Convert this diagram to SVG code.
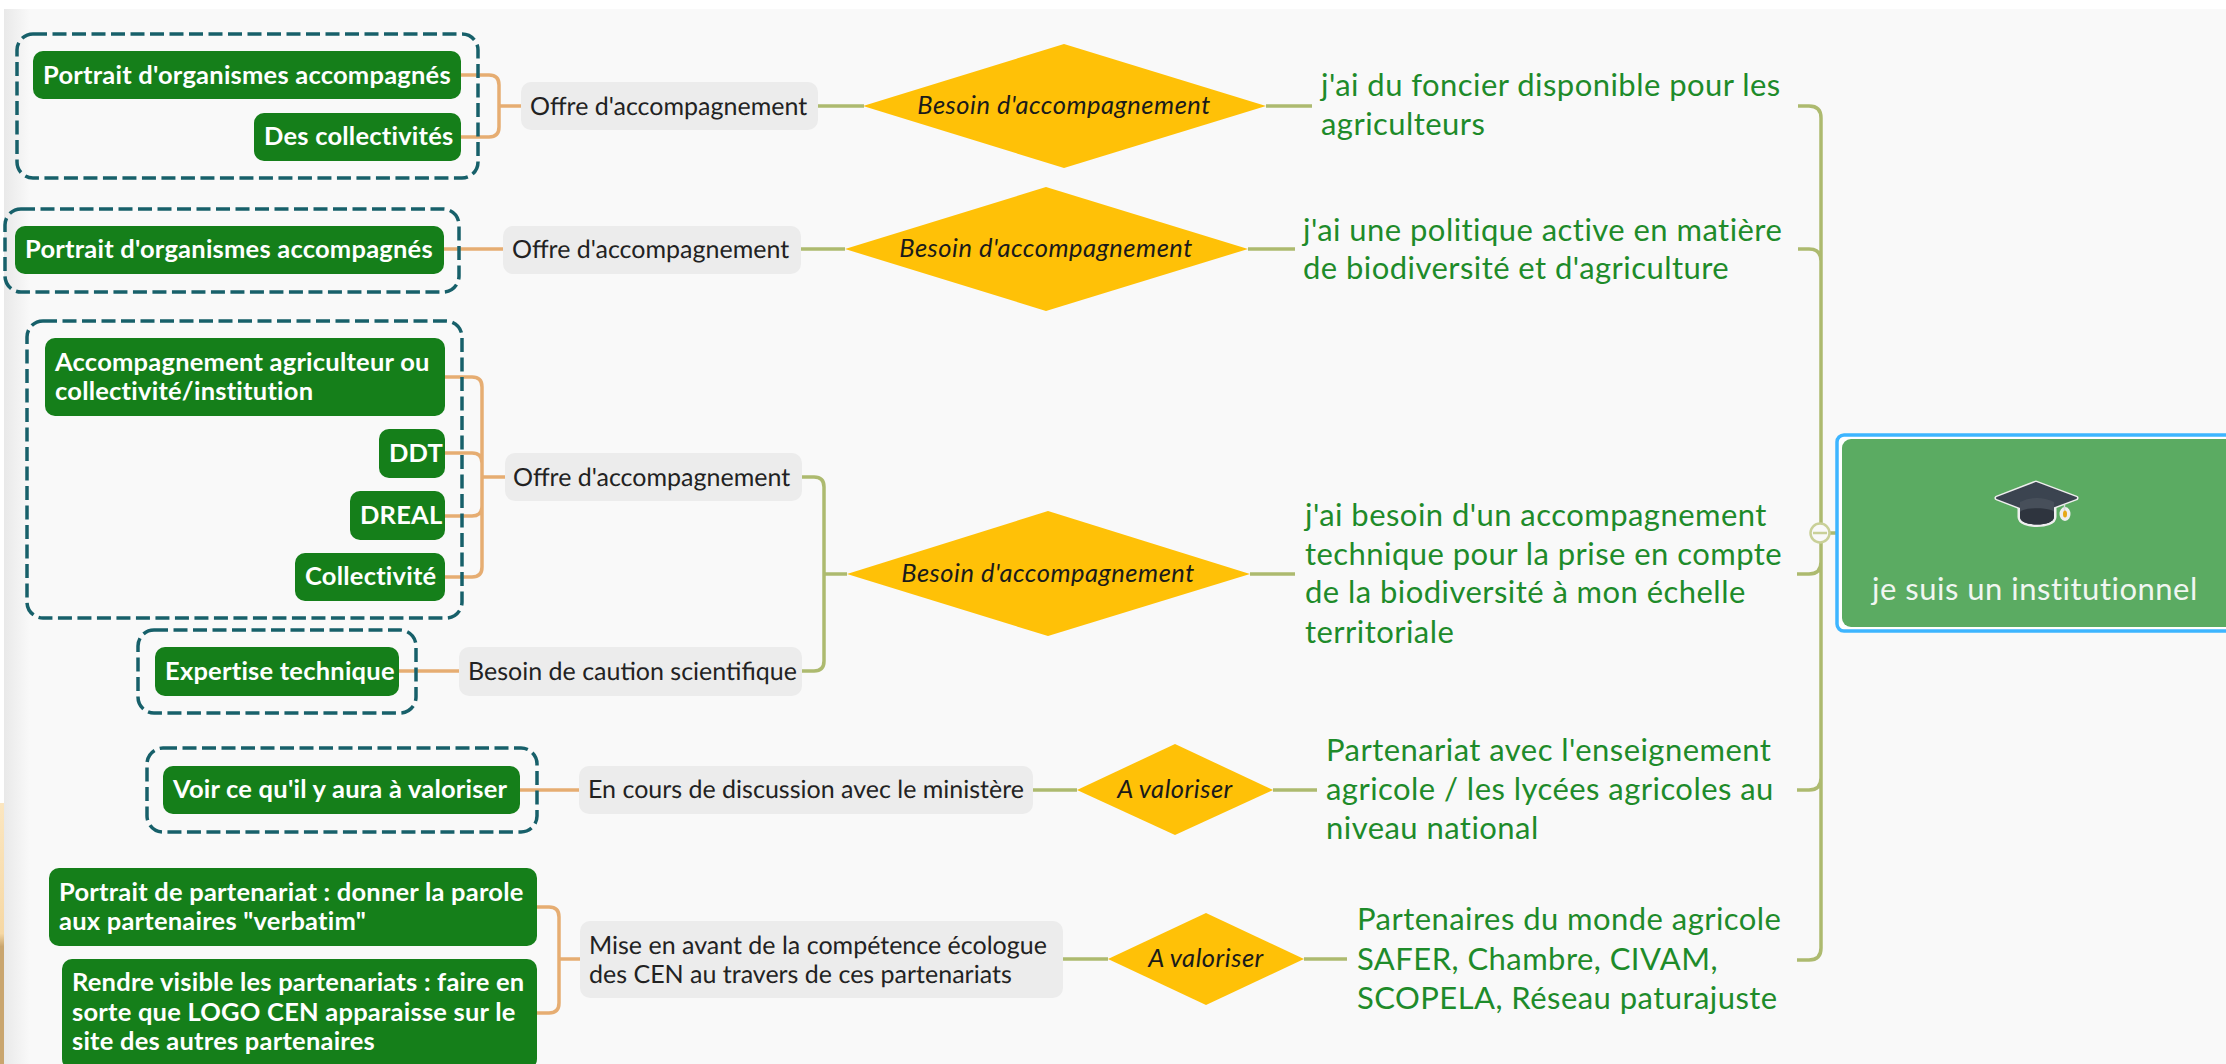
<svg xmlns="http://www.w3.org/2000/svg" width="2226" height="1064" viewBox="0 0 2226 1064">
<style>
text{font-family:"Lato","Liberation Sans",sans-serif}
.sub rect{fill:#157f1a}
.sub text{fill:#fff;font-size:25.5px;font-weight:700;letter-spacing:.22px}
.offer rect{fill:#ececec}
.offer text{fill:#222;font-size:25px;text-rendering:geometricPrecision}
.dia polygon{fill:#ffc107}
.dia text{fill:#1a1a1a;font-size:25.5px;font-style:italic;text-anchor:middle;letter-spacing:.5px}
.main text{fill:#1e8b2a;font-size:31px;letter-spacing:.45px}
.dash{fill:none;stroke:#17606a;stroke-width:3.5;stroke-dasharray:14 5.500}
.o{fill:none;stroke:#e6ad72;stroke-width:3.5}
.g{fill:none;stroke:#adba6f;stroke-width:3.5}
</style>
<defs><linearGradient id="shade"><stop offset="0" stop-color="#e9e9e9"/><stop offset="1" stop-color="#f9f9f9"/></linearGradient>
<linearGradient id="tan" x1="0" y1="0" x2="0" y2="1"><stop offset="0" stop-color="#fbe6c0"/><stop offset=".5" stop-color="#f6d8a4"/><stop offset=".55" stop-color="#c9a56e"/><stop offset="1" stop-color="#c9a56e"/></linearGradient></defs>
<rect width="2226" height="1064" fill="#fff"/>
<rect x="4" y="9" width="2222" height="1055" fill="#f9f9f9"/>
<rect x="4" y="9" width="26" height="1055" fill="url(#shade)"/>
<rect x="0" y="803" width="4" height="261" fill="url(#tan)"/>
<g id="connectors">
<path class="o" d="M461 75H489Q499 75 499 85V127Q499 137 489 137H461M499 106H521"/>
<path class="o" d="M444 249H503"/>
<path class="o" d="M445 377H472Q482 377 482 387V567Q482 577 472 577H445M445 453H472Q482 453 482 463V506Q482 516 472 516H445M482 477H505"/>
<path class="o" d="M399 671H459"/>
<path class="o" d="M520 790H579"/>
<path class="o" d="M537 907H549Q559 907 559 917V1003Q559 1013 549 1013H537M559 959H580"/>
<path class="g" d="M818 106H864M1266 106H1312"/>
<path class="g" d="M801 249H845M1248 249H1295"/>
<path class="g" d="M802 477H814Q824 477 824 487V661Q824 671 814 671H802M824 574H847M1250 574H1295"/>
<path class="g" d="M1033 790H1077M1273 790H1317"/>
<path class="g" d="M1063 959H1108M1304 959H1347"/>
<path class="g" d="M1798 106H1809Q1821 106 1821 118V948Q1821 960 1809 960H1797M1798 249H1809Q1821 249 1821 261M1797 574H1809Q1821 574 1821 562M1797 790H1809Q1821 790 1821 778"/>
<path class="g" d="M1830 533H1842"/>
</g>
<g id="dash-boxes">
<rect class="dash" x="17" y="34" width="461" height="144" rx="16"/>
<rect class="dash" x="5" y="209" width="454" height="83" rx="16"/>
<rect class="dash" x="27" y="321" width="435" height="297" rx="16"/>
<rect class="dash" x="138" y="630" width="278" height="83" rx="16"/>
<rect class="dash" x="147" y="748" width="390" height="84" rx="16"/>
</g>
<g id="n1" class="sub"><rect x="33" y="51" width="428" height="48" rx="10"/><text x="43" y="84">Portrait d'organismes accompagnés</text></g>
<g id="n2" class="sub"><rect x="254" y="113" width="207" height="48" rx="10"/><text x="264" y="145">Des collectivités</text></g>
<g id="n3" class="sub"><rect x="15" y="226" width="429" height="48" rx="10"/><text x="25" y="258">Portrait d'organismes accompagnés</text></g>
<g id="n4" class="sub"><rect x="45" y="338" width="400" height="78" rx="10"/><text x="55" y="371">Accompagnement agriculteur ou</text><text x="55" y="400">collectivité/institution</text></g>
<g id="n5" class="sub"><rect x="379" y="429" width="66" height="49" rx="10"/><text x="389" y="462">DDT</text></g>
<g id="n6" class="sub"><rect x="350" y="491" width="95" height="49" rx="10"/><text x="360" y="524">DREAL</text></g>
<g id="n7" class="sub"><rect x="295" y="553" width="150" height="48" rx="10"/><text x="305" y="585">Collectivité</text></g>
<g id="n8" class="sub"><rect x="155" y="647" width="244" height="49" rx="10"/><text x="165" y="680">Expertise technique</text></g>
<g id="n9" class="sub"><rect x="163" y="766" width="357" height="48" rx="10"/><text x="173" y="798">Voir ce qu'il y aura à valoriser</text></g>
<g id="n10" class="sub"><rect x="49" y="868" width="488" height="78" rx="10"/><text x="59" y="901">Portrait de partenariat : donner la parole</text><text x="59" y="930">aux partenaires "verbatim"</text></g>
<g id="n11" class="sub"><rect x="62" y="959" width="475" height="110" rx="10"/><text x="72" y="991">Rendre visible les partenariats : faire en</text><text x="72" y="1021">sorte que LOGO CEN apparaisse sur le</text><text x="72" y="1050">site des autres partenaires</text></g>
<g id="o1" class="offer"><rect x="521" y="82" width="297" height="48" rx="10"/><text x="530" y="115">Offre d'accompagnement</text></g>
<g id="o2" class="offer"><rect x="503" y="226" width="298" height="48" rx="10"/><text x="512" y="258">Offre d'accompagnement</text></g>
<g id="o3" class="offer"><rect x="505" y="453" width="297" height="48" rx="10"/><text x="513" y="486">Offre d'accompagnement</text></g>
<g id="o4" class="offer"><rect x="459" y="647" width="343" height="49" rx="10"/><text x="468" y="680">Besoin de caution scientifique</text></g>
<g id="o5" class="offer"><rect x="579" y="766" width="454" height="48" rx="10"/><text x="588" y="798">En cours de discussion avec le ministère</text></g>
<g id="o6" class="offer"><rect x="580" y="921" width="483" height="77" rx="10"/><text x="589" y="954">Mise en avant de la compétence écologue</text><text x="589" y="983">des CEN au travers de ces partenariats</text></g>
<g id="d1" class="dia"><polygon points="863,106 1064,44 1266,106 1064,168"/><text x="1064" y="114">Besoin d'accompagnement</text></g>
<g id="d2" class="dia"><polygon points="845,249 1046,187 1248,249 1046,311"/><text x="1046" y="257">Besoin d'accompagnement</text></g>
<g id="d3" class="dia"><polygon points="847,574 1048,511 1250,574 1048,636"/><text x="1048" y="582">Besoin d'accompagnement</text></g>
<g id="d4" class="dia"><polygon points="1077,790 1175,744 1273,790 1175,835"/><text x="1175" y="798">A valoriser</text></g>
<g id="d5" class="dia"><polygon points="1108,959 1206,913 1304,959 1206,1005"/><text x="1206" y="967">A valoriser</text></g>
<g id="m1" class="main"><text x="1321" y="96">j'ai du foncier disponible pour les</text><text x="1321" y="135">agriculteurs</text></g>
<g id="m2" class="main"><text x="1303" y="241">j'ai une politique active en matière</text><text x="1303" y="279">de biodiversité et d'agriculture</text></g>
<g id="m3" class="main"><text x="1305" y="526">j'ai besoin d'un accompagnement</text><text x="1305" y="565">technique pour la prise en compte</text><text x="1305" y="603">de la biodiversité à mon échelle</text><text x="1305" y="643">territoriale</text></g>
<g id="m4" class="main"><text x="1326" y="761">Partenariat avec l'enseignement</text><text x="1326" y="800">agricole / les lycées agricoles au</text><text x="1326" y="839">niveau national</text></g>
<g id="m5" class="main"><text x="1357" y="930">Partenaires du monde agricole</text><text x="1357" y="970">SAFER, Chambre, CIVAM,</text><text x="1357" y="1009">SCOPELA, Réseau paturajuste</text></g>
<g id="root">
<rect x="1837" y="435" width="400" height="196" rx="7" fill="#fff" stroke="#3db5ff" stroke-width="3.5"/>
<rect x="1842" y="439" width="400" height="188" rx="9" fill="#5bab62"/>
<g id="cap">
<g fill="#eee" stroke="#eee" stroke-width="5" stroke-linejoin="round">
<polygon points="1997,498 2036,483 2076,498 2036,513"/>
<path d="M2020 500H2054V517C2054 527 2020 527 2020 517Z"/>
<ellipse cx="2065" cy="514" rx="3" ry="4.500"/>
</g>
<polygon points="1997,498 2036,483 2076,498 2036,513" fill="#3b4450" stroke="#3b4450" stroke-width="2" stroke-linejoin="round"/>
<path d="M2020 502Q2037 494 2054 502V517C2054 527 2020 527 2020 517Z" fill="#474f5a"/>
<path d="M2020 512C2023 507 2051 507 2054 512V517C2054 527 2020 527 2020 517Z" fill="#2e343e"/>
<path d="M2064.500 505V511" fill="none" stroke="#d5d8dc" stroke-width="1.500"/>
<ellipse cx="2065" cy="514" rx="2" ry="3.500" fill="#e6a817"/>
</g>
<text x="1872" y="600" font-size="31" letter-spacing=".5" fill="#f1f6f1">je suis un institutionnel</text>
</g>
<g id="collapse"><circle cx="1820" cy="533" r="9.500" fill="#f9f9f9" stroke="#c9d098" stroke-width="2.500"/><path d="M1813 533H1827" stroke="#c9d098" stroke-width="2.500"/></g>
</svg>
